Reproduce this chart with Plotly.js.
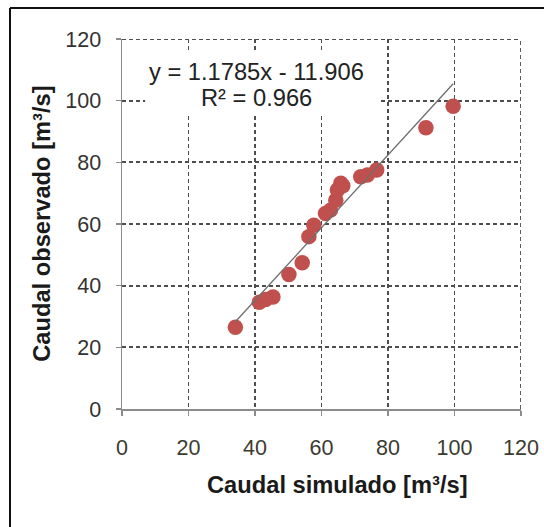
<!DOCTYPE html>
<html>
<head>
<meta charset="utf-8">
<script src="https://cdn.plot.ly/plotly-3.0.1.min.js"></script>
<style>
  html, body { margin: 0; padding: 0; background: #fff; overflow: hidden; }
  #chart { width: 544px; height: 527px; }
</style>
</head>
<body>
<div id="chart"></div>
<script>
// Data
const simulated = [34.1, 41.3, 43.2, 45.4, 50.2, 54.2, 56.2, 57.7, 61.2, 62.7, 64.3, 64.8, 65.8, 66.4, 71.8, 73.8, 76.6, 91.4, 99.6];
const observed  = [26.5, 34.6, 35.5, 36.3, 43.6, 47.4, 55.9, 59.6, 63.4, 64.5, 67.7, 71.0, 73.2, 72.4, 75.3, 75.9, 77.5, 91.2, 98.2];
const slope = 1.1785;
const intercept = -11.906;
const r2 = 0.966;
const tickValues = [0, 20, 40, 60, 80, 100, 120];
const xTitle = 'Caudal simulado [m³/s]';
const yTitle = 'Caudal observado [m³/s]';

const xMin = Math.min(...simulated);
const xMax = Math.max(...simulated);
const trendX = [xMin, xMax];
const trendY = trendX.map(v => slope * v + intercept);
const axisMax = tickValues[tickValues.length - 1];

const FONT = 'Liberation Sans, Arial, sans-serif';
const GRID = { color: '#4d4d4d', width: 1.8, dash: '4px,3px' };

// plot-area geometry (pixels) used to place the outer frame in paper units
const W = 544, H = 527, ML = 122, MR = 23, MT = 39, MB = 118;
const PW = W - ML - MR, PH = H - MT - MB;
const px = v => (v - ML) / PW;
const py = v => (H - MB - v) / PH;

const traces = [
  {
    x: simulated, y: observed, type: 'scatter', mode: 'markers',
    marker: { color: '#c0504d', size: 15.5, line: { width: 0 } },
    hoverinfo: 'skip'
  },
  {
    x: trendX, y: trendY, type: 'scatter', mode: 'lines',
    line: { color: '#6e6e6e', width: 1.3 },
    hoverinfo: 'skip'
  }
];

const axisCommon = {
  range: [0, axisMax], tickvals: tickValues, ticktext: tickValues.map(String),
  showgrid: true, gridcolor: GRID.color, griddash: GRID.dash, gridwidth: GRID.width,
  showline: true, linecolor: '#8c8c8c', linewidth: 1.5,
  ticks: 'outside', ticklen: 5, tickcolor: '#8c8c8c', tickwidth: 1.5,
  zeroline: false, fixedrange: true, layer: 'below traces'
};

const layout = {
  width: W, height: H,
  margin: { l: ML, r: MR, t: MT, b: MB, pad: 0 },
  paper_bgcolor: '#ffffff', plot_bgcolor: '#ffffff',
  showlegend: false,
  font: { family: FONT, color: '#333' },
  xaxis: Object.assign({}, axisCommon, {
    tickfont: { family: FONT, size: 21.5, color: '#3b3b30' },
    ticklabelstandoff: 14
  }),
  yaxis: Object.assign({}, axisCommon, {
    tickfont: { family: FONT, size: 21.5, color: '#333333' },
    ticklabelstandoff: 10
  }),
  shapes: [
    // dashed gridlines along the top and right edges (value 120)
    { type: 'line', xref: 'x', yref: 'y', x0: 0, x1: axisMax, y0: axisMax, y1: axisMax,
      line: { color: GRID.color, width: GRID.width, dash: GRID.dash }, layer: 'below' },
    { type: 'line', xref: 'x', yref: 'y', x0: axisMax, x1: axisMax, y0: 0, y1: axisMax,
      line: { color: GRID.color, width: GRID.width, dash: GRID.dash }, layer: 'below' },
    // white background box behind the trendline label
    { type: 'rect', xref: 'paper', yref: 'paper', x0: 0.058, x1: 0.648, y0: 0.795, y1: 0.965,
      fillcolor: '#ffffff', line: { width: 0 }, layer: 'above' },
    // outer frame: left and top edges only (right/bottom fall outside the picture)
    { type: 'line', xref: 'paper', yref: 'paper', x0: px(10), x1: px(10), y0: py(8), y1: py(560),
      line: { color: '#111111', width: 2 }, layer: 'above' },
    { type: 'line', xref: 'paper', yref: 'paper', x0: px(10), x1: px(600), y0: py(8), y1: py(8),
      line: { color: '#111111', width: 2 }, layer: 'above' }
  ],
  annotations: [
    { text: 'y = ' + slope + 'x - ' + Math.abs(intercept), xref: 'paper', yref: 'paper',
      x: 0.336, y: 0.911, xanchor: 'center', yanchor: 'middle', showarrow: false,
      font: { family: FONT, size: 23.7, color: '#222' } },
    { text: 'R² = ' + r2, xref: 'paper', yref: 'paper',
      x: 0.336, y: 0.84, xanchor: 'center', yanchor: 'middle', showarrow: false,
      font: { family: FONT, size: 23.7, color: '#222' } },
    { text: '<b>' + xTitle + '</b>', xref: 'paper', yref: 'paper',
      x: 0.541, y: -0.2054, xanchor: 'center', yanchor: 'middle', showarrow: false,
      font: { family: FONT, size: 23.7, color: '#1a1a1a' } },
    { text: '<b>' + yTitle + '</b>', xref: 'paper', yref: 'paper',
      x: -0.201, y: 0.5, xanchor: 'center', yanchor: 'middle', showarrow: false, textangle: -90,
      font: { family: FONT, size: 23.7, color: '#1a1a1a' } }
  ]
};

Plotly.newPlot('chart', traces, layout, { staticPlot: true, displayModeBar: false });
</script>
</body>
</html>
